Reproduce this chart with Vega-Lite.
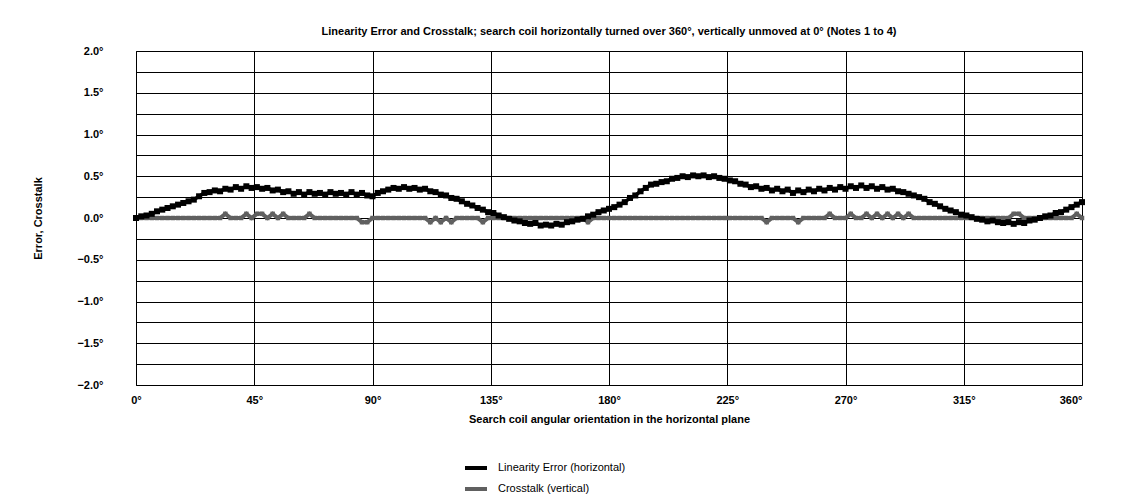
{
  "$schema": "https://vega.github.io/schema/vega-lite/v6.json",
  "width": 946,
  "height": 334,
  "autosize": {"type": "none"},
  "padding": {"left": 136, "top": 51, "right": 49, "bottom": 118},
  "background": "white",
  "title": {
    "text": "Linearity Error and Crosstalk; search coil horizontally turned over 360°, vertically unmoved at 0° (Notes 1 to 4)",
    "fontSize": 11,
    "font": "Liberation Sans",
    "fontWeight": "bold",
    "color": "#000000",
    "anchor": "middle",
    "offset": 8
  },
  "data": {
    "values": [
      {"a":0,"e":0.00,"c":0},{"a":2,"e":0.02,"c":0},{"a":4,"e":0.03,"c":0},{"a":6,"e":0.05,"c":0},{"a":8,"e":0.08,"c":0},
      {"a":10,"e":0.10,"c":0},{"a":12,"e":0.12,"c":0},{"a":14,"e":0.14,"c":0},{"a":16,"e":0.16,"c":0},{"a":18,"e":0.18,"c":0},
      {"a":20,"e":0.20,"c":0},{"a":22,"e":0.22,"c":0},{"a":24,"e":0.26,"c":0},{"a":26,"e":0.30,"c":0},{"a":28,"e":0.31,"c":0},
      {"a":30,"e":0.33,"c":0},{"a":32,"e":0.32,"c":0},{"a":34,"e":0.35,"c":0.05},{"a":36,"e":0.34,"c":0},{"a":38,"e":0.37,"c":0},
      {"a":40,"e":0.35,"c":0},{"a":42,"e":0.38,"c":0.05},{"a":44,"e":0.36,"c":0},{"a":46,"e":0.37,"c":0.05},{"a":48,"e":0.35,"c":0.05},
      {"a":50,"e":0.36,"c":0},{"a":52,"e":0.33,"c":0.05},{"a":54,"e":0.34,"c":0},{"a":56,"e":0.31,"c":0.05},{"a":58,"e":0.32,"c":0},
      {"a":60,"e":0.29,"c":0},{"a":62,"e":0.31,"c":0},{"a":64,"e":0.28,"c":0},{"a":66,"e":0.31,"c":0.05},{"a":68,"e":0.29,"c":0},
      {"a":70,"e":0.30,"c":0},{"a":72,"e":0.28,"c":0},{"a":74,"e":0.31,"c":0},{"a":76,"e":0.29,"c":0},{"a":78,"e":0.30,"c":0},
      {"a":80,"e":0.28,"c":0},{"a":82,"e":0.31,"c":0},{"a":84,"e":0.28,"c":0},{"a":86,"e":0.30,"c":-0.05},{"a":88,"e":0.27,"c":-0.05},
      {"a":90,"e":0.26,"c":0},{"a":92,"e":0.30,"c":0},{"a":94,"e":0.32,"c":0},{"a":96,"e":0.34,"c":0},{"a":98,"e":0.36,"c":0},
      {"a":100,"e":0.35,"c":0},{"a":102,"e":0.37,"c":0},{"a":104,"e":0.35,"c":0},{"a":106,"e":0.36,"c":0},{"a":108,"e":0.34,"c":0},
      {"a":110,"e":0.35,"c":0},{"a":112,"e":0.32,"c":-0.05},{"a":114,"e":0.31,"c":0},{"a":116,"e":0.28,"c":-0.05},{"a":118,"e":0.27,"c":0},
      {"a":120,"e":0.24,"c":-0.05},{"a":122,"e":0.23,"c":0},{"a":124,"e":0.20,"c":0},{"a":126,"e":0.17,"c":0},{"a":128,"e":0.15,"c":0},
      {"a":130,"e":0.12,"c":0},{"a":132,"e":0.10,"c":-0.05},{"a":134,"e":0.07,"c":0},{"a":136,"e":0.06,"c":0},{"a":138,"e":0.03,"c":0},
      {"a":140,"e":0.01,"c":0},{"a":142,"e":-0.01,"c":0},{"a":144,"e":-0.03,"c":0},{"a":146,"e":-0.04,"c":0},{"a":148,"e":-0.06,"c":0},
      {"a":150,"e":-0.07,"c":0},{"a":152,"e":-0.06,"c":0},{"a":154,"e":-0.09,"c":0},{"a":156,"e":-0.08,"c":0},{"a":158,"e":-0.09,"c":0},
      {"a":160,"e":-0.07,"c":0},{"a":162,"e":-0.08,"c":0},{"a":164,"e":-0.05,"c":0},{"a":166,"e":-0.04,"c":0},{"a":168,"e":-0.02,"c":0},
      {"a":170,"e":-0.01,"c":0},{"a":172,"e":0.02,"c":-0.05},{"a":174,"e":0.04,"c":0},{"a":176,"e":0.07,"c":0},{"a":178,"e":0.09,"c":0},
      {"a":180,"e":0.11,"c":0},{"a":182,"e":0.13,"c":0},{"a":184,"e":0.16,"c":0},{"a":186,"e":0.19,"c":0},{"a":188,"e":0.24,"c":0},
      {"a":190,"e":0.27,"c":0},{"a":192,"e":0.32,"c":0},{"a":194,"e":0.36,"c":0},{"a":196,"e":0.40,"c":0},{"a":198,"e":0.41,"c":0},
      {"a":200,"e":0.43,"c":0},{"a":202,"e":0.44,"c":0},{"a":204,"e":0.47,"c":0},{"a":206,"e":0.48,"c":0},{"a":208,"e":0.50,"c":0},
      {"a":210,"e":0.49,"c":0},{"a":212,"e":0.51,"c":0},{"a":214,"e":0.50,"c":0},{"a":216,"e":0.51,"c":0},{"a":218,"e":0.49,"c":0},
      {"a":220,"e":0.50,"c":0},{"a":222,"e":0.48,"c":0},{"a":224,"e":0.47,"c":0},{"a":226,"e":0.45,"c":0},{"a":228,"e":0.44,"c":0},
      {"a":230,"e":0.41,"c":0},{"a":232,"e":0.40,"c":0},{"a":234,"e":0.37,"c":0},{"a":236,"e":0.38,"c":0},{"a":238,"e":0.35,"c":0},
      {"a":240,"e":0.36,"c":-0.05},{"a":242,"e":0.33,"c":0},{"a":244,"e":0.35,"c":0},{"a":246,"e":0.32,"c":0},{"a":248,"e":0.34,"c":0},
      {"a":250,"e":0.30,"c":0},{"a":252,"e":0.33,"c":-0.05},{"a":254,"e":0.31,"c":0},{"a":256,"e":0.34,"c":0},{"a":258,"e":0.32,"c":0},
      {"a":260,"e":0.35,"c":0},{"a":262,"e":0.33,"c":0},{"a":264,"e":0.36,"c":0.05},{"a":266,"e":0.34,"c":0},{"a":268,"e":0.37,"c":0},
      {"a":270,"e":0.35,"c":0},{"a":272,"e":0.38,"c":0.05},{"a":274,"e":0.36,"c":0},{"a":276,"e":0.39,"c":0},{"a":278,"e":0.36,"c":0.05},
      {"a":280,"e":0.38,"c":0},{"a":282,"e":0.35,"c":0.05},{"a":284,"e":0.37,"c":0},{"a":286,"e":0.34,"c":0.05},{"a":288,"e":0.35,"c":0},
      {"a":290,"e":0.32,"c":0.05},{"a":292,"e":0.31,"c":0},{"a":294,"e":0.29,"c":0.05},{"a":296,"e":0.27,"c":0},{"a":298,"e":0.25,"c":0},
      {"a":300,"e":0.23,"c":0},{"a":302,"e":0.19,"c":0},{"a":304,"e":0.17,"c":0},{"a":306,"e":0.14,"c":0},{"a":308,"e":0.11,"c":0},
      {"a":310,"e":0.09,"c":0},{"a":312,"e":0.07,"c":0},{"a":314,"e":0.04,"c":0},{"a":316,"e":0.03,"c":0},{"a":318,"e":0.01,"c":0},
      {"a":320,"e":-0.01,"c":0},{"a":322,"e":-0.02,"c":0},{"a":324,"e":-0.04,"c":0},{"a":326,"e":-0.03,"c":0},{"a":328,"e":-0.05,"c":0},
      {"a":330,"e":-0.06,"c":0},{"a":332,"e":-0.05,"c":0},{"a":334,"e":-0.07,"c":0.05},{"a":336,"e":-0.05,"c":0.05},{"a":338,"e":-0.06,"c":0},
      {"a":340,"e":-0.03,"c":0},{"a":342,"e":-0.02,"c":0},{"a":344,"e":0.00,"c":0},{"a":346,"e":0.02,"c":0},{"a":348,"e":0.03,"c":0},
      {"a":350,"e":0.06,"c":0},{"a":352,"e":0.07,"c":0},{"a":354,"e":0.10,"c":0},{"a":356,"e":0.13,"c":0},{"a":358,"e":0.16,"c":0.05},
      {"a":360,"e":0.19,"c":0}
    ]
  },
  "transform": [
    {"fold": ["e", "c"], "as": ["k", "v"]},
    {"lookup": "k", "from": {"data": {"values": [{"k": "e", "s": "Linearity Error (horizontal)"}, {"k": "c", "s": "Crosstalk (vertical)"}]}, "key": "k", "fields": ["s"]}}
  ],
  "encoding": {
    "x": {
      "field": "a", "type": "quantitative",
      "scale": {"domain": [0, 360], "nice": false, "zero": false},
      "axis": {
        "title": "Search coil angular orientation in the horizontal plane",
        "values": [0, 45, 90, 135, 180, 225, 270, 315, 360],
        "labelExpr": "datum.value + '°'",
        "labelFlush": false,
        "labelAlign": {"condition": {"test": "datum.value == 360", "value": "right"}, "value": "center"},
        "grid": true, "gridColor": "#000000", "gridOpacity": 1, "gridWidth": 1,
        "ticks": false, "domain": false,
        "labelPadding": 9, "titlePadding": 8
      }
    },
    "y": {
      "field": "v", "type": "quantitative",
      "scale": {"domain": [-2, 2], "nice": false, "zero": false},
      "axis": {
        "title": "Error, Crosstalk",
        "values": [-2, -1.75, -1.5, -1.25, -1, -0.75, -0.5, -0.25, 0, 0.25, 0.5, 0.75, 1, 1.25, 1.5, 1.75, 2],
        "labelExpr": "abs(datum.value * 2 - round(datum.value * 2)) < 0.01 ? format(datum.value, '.1f') + '°' : ''",
        "grid": true, "gridColor": "#000000", "gridOpacity": 1, "gridWidth": 1,
        "ticks": false, "domain": false,
        "labelPadding": 33, "titlePadding": 33
      }
    },
    "color": {
      "field": "s", "type": "nominal",
      "scale": {"domain": ["Linearity Error (horizontal)", "Crosstalk (vertical)"], "range": ["#000000", "#606060"]},
      "legend": {
        "title": null,
        "orient": "none",
        "legendX": 327,
        "legendY": 404,
        "direction": "vertical",
        "symbolType": "stroke",
        "symbolStrokeWidth": 4,
        "symbolSize": 484,
        "rowPadding": 0,
        "labelFontSize": 11,
        "labelFont": "Liberation Sans",
        "labelColor": "#000000",
        "labelOffset": 9,
        "padding": 0
      }
    }
  },
  "layer": [
    {
      "transform": [{"filter": "datum.k == 'c'"}],
      "mark": {"type": "line", "strokeWidth": 4, "point": {"shape": "square", "size": 20, "filled": true}}
    },
    {
      "transform": [{"filter": "datum.k == 'e'"}],
      "mark": {"type": "line", "strokeWidth": 3.5, "point": {"shape": "square", "size": 36, "filled": true}}
    }
  ],
  "config": {
    "font": "Liberation Sans",
    "view": {"stroke": "#000000", "strokeWidth": 1},
    "axis": {
      "labelFont": "Liberation Sans", "labelFontSize": 11, "labelFontWeight": "bold", "labelColor": "#000000",
      "titleFont": "Liberation Sans", "titleFontSize": 11, "titleFontWeight": "bold", "titleColor": "#000000"
    }
  }
}
